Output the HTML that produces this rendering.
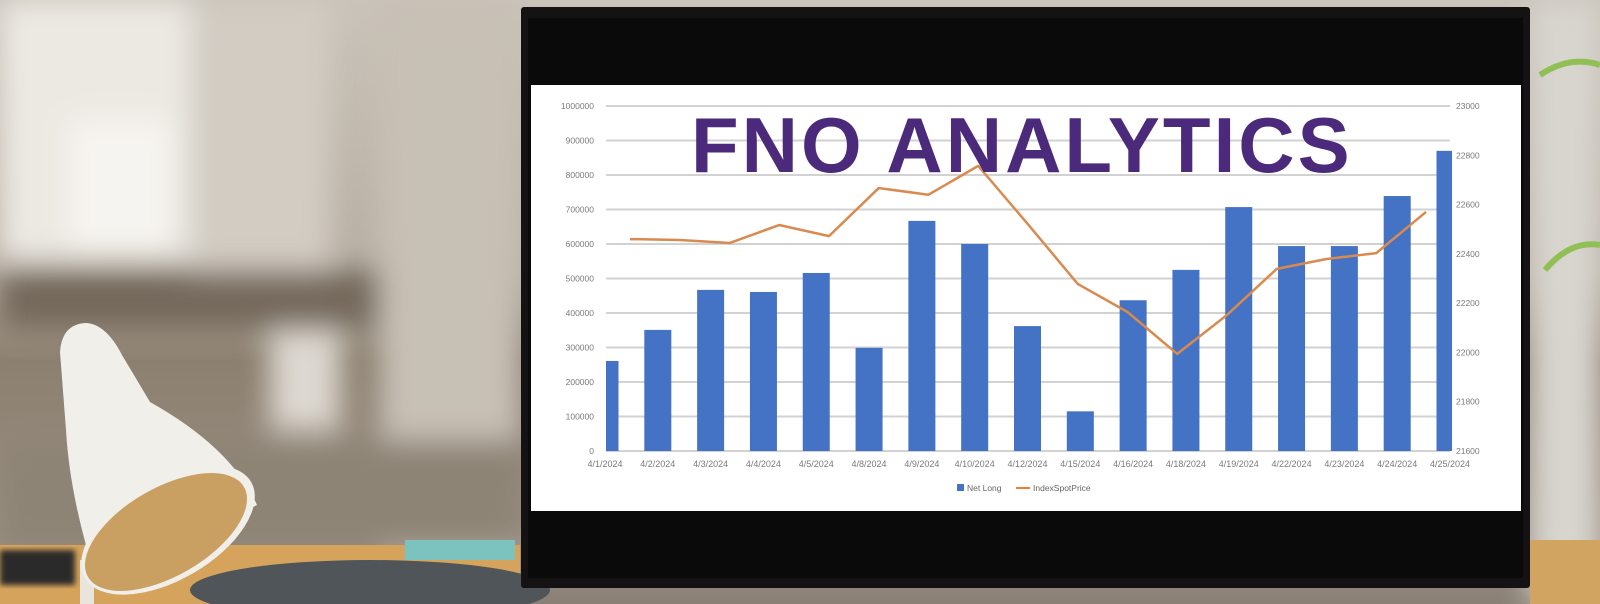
<!DOCTYPE html>
<html><head><meta charset="utf-8"><style>
html,body{margin:0;padding:0;width:1600px;height:604px;overflow:hidden;background:#b9b1a5}
svg{display:block}
text{font-family:"Liberation Sans",sans-serif}
</style></head><body>
<svg id="scene" width="1600" height="604" viewBox="0 0 1600 604">
<defs>
<filter id="blur" x="-20%" y="-20%" width="140%" height="140%"><feGaussianBlur stdDeviation="14"/></filter>
<filter id="blur2"><feGaussianBlur stdDeviation="3"/></filter>
<linearGradient id="bg" x1="0" y1="0" x2="0" y2="1">
<stop offset="0" stop-color="#c9c3b9"/><stop offset="0.45" stop-color="#b7aea2"/><stop offset="0.6" stop-color="#8c8070"/><stop offset="0.9" stop-color="#9a8f82"/><stop offset="1" stop-color="#8a8076"/></linearGradient>
<clipPath id="plotclip"><rect x="606" y="100" width="846" height="352"/></clipPath>
</defs>
<g>
<rect width="1600" height="604" fill="url(#bg)"/>
<g filter="url(#blur)">
<rect x="0" y="0" width="190" height="260" fill="#ece9e3"/>
<rect x="70" y="120" width="100" height="130" fill="#f6f4f0"/>
<rect x="190" y="0" width="140" height="300" fill="#d2ccc3"/>
<rect x="0" y="270" width="420" height="60" fill="#74695b"/>
<rect x="270" y="330" width="70" height="100" fill="#ddd8d0"/>
<rect x="380" y="0" width="140" height="560" fill="#c7c0b5"/>
<rect x="0" y="440" width="520" height="110" fill="#8e8476"/>
<rect x="1530" y="0" width="70" height="604" fill="#d8d5cf"/>
</g>
<rect x="0" y="545" width="520" height="59" fill="#d6a35c"/>
<rect x="0" y="550" width="75" height="35" fill="#2c2c2c" filter="url(#blur2)"/>
<rect x="405" y="540" width="110" height="20" fill="#7cc3c0"/>
<rect x="1530" y="540" width="70" height="64" fill="#d1a461"/>
<path d="M1540 75 q30 -20 60 -10 M1545 270 q25 -30 55 -25" stroke="#8fbf55" stroke-width="6" fill="none"/>
</g>
<g>
<rect x="80" y="560" width="14" height="44" fill="#e9e4dc"/>
<path d="M60 352 Q62 324 86 323 Q106 324 122 355 L150 402 Q232 448 257 505 L98 585 Q70 500 66 430 Z" fill="#f1efea"/>
<ellipse cx="168" cy="530" rx="96" ry="50" transform="rotate(-30 168 530)" fill="#f1efea"/>
<ellipse cx="166" cy="532" rx="90" ry="44" transform="rotate(-30 166 532)" fill="#c9a062"/>
</g>
<ellipse cx="370" cy="590" rx="180" ry="30" fill="#4f5558"/>
<g>
<rect x="521" y="7" width="1009" height="581" rx="3" fill="#141212"/>
<rect x="528" y="18" width="995" height="560" fill="#0b0a0a"/>
</g>
<g>
<rect x="531" y="85" width="990" height="426" fill="#ffffff"/>
<g id="grid"></g>
<g id="bars" clip-path="url(#plotclip)"></g>
<g id="line"></g>
<g id="leftTicks"></g>
<g id="rightTicks"></g>
<g id="xTicks"></g>
<g>
<rect x="957" y="484" width="7" height="7" fill="#4472c4"/>
<text x="967" y="491" font-size="8.5" fill="#666">Net Long</text>
<line x1="1016" y1="488" x2="1030" y2="488" stroke="#ed7d31" stroke-width="2"/>
<text x="1033" y="491" font-size="8.5" fill="#666">IndexSpotPrice</text>
</g>
<text x="691" y="172" font-size="78" font-weight="bold" fill="#4b2a7b" letter-spacing="3">FNO ANALYTICS</text>
</g>
</svg>
<script>
const categories=["4/1/2024","4/2/2024","4/3/2024","4/4/2024","4/5/2024","4/8/2024","4/9/2024","4/10/2024","4/12/2024","4/15/2024","4/16/2024","4/18/2024","4/19/2024","4/22/2024","4/23/2024","4/24/2024","4/25/2024"];
const netLong=[261000,351000,467000,461000,516000,299000,667000,600000,362000,115000,437000,525000,707000,594000,594000,739000,870000];
const indexSpotPrice=[22460,22456,22444,22517,22472,22667,22640,22757,22520,22278,22164,21994,22152,22339,22379,22403,22570];
const leftTicks=[0,100000,200000,300000,400000,500000,600000,700000,800000,900000,1000000];
const rightTicks=[21600,21800,22000,22200,22400,22600,22800,23000];
const NS="http://www.w3.org/2000/svg";
const Y0=451,Y1=106;
function yLeft(v){return Y0-(v-0)/(1000000-0)*(Y0-Y1);}
function yRight(v){return Y0-(v-21600)/(23000-21600)*(Y0-Y1);}
function xBar(i){return 605+i*(1450-605)/(categories.length-1);}
function xLine(i){return 630+i*(1426-630)/(categories.length-1);}
function mk(tag,attrs,parent){const e=document.createElementNS(NS,tag);for(const k in attrs)e.setAttribute(k,attrs[k]);document.getElementById(parent).appendChild(e);return e;}
leftTicks.forEach(v=>{
  const g=mk('line',{x1:606,x2:1450,y1:yLeft(v),y2:yLeft(v),stroke:'#d2d2d2','stroke-width':2},'grid');
  
  
  const t=mk('text',{x:594,y:yLeft(v)+3,'font-size':8.5,fill:'#7a7a7a','text-anchor':'end'},'leftTicks');
  t.textContent=v;
  
  
});
rightTicks.forEach(v=>{
  const t=mk('text',{x:1456,y:yRight(v)+3,'font-size':8.5,fill:'#7a7a7a'},'rightTicks');
  t.textContent=v;
  
  
});
categories.forEach((c,i)=>{
  const b=mk('rect',{x:xBar(i)-13.5,y:yLeft(netLong[i]),width:27,height:Y0-yLeft(netLong[i]),fill:'#4472c4'},'bars');
  
  
  const t=mk('text',{x:xBar(i),y:467,'font-size':9,fill:'#7a7a7a','text-anchor':'middle'},'xTicks');
  t.textContent=c;
  
  
});
const pts=indexSpotPrice.map((v,i)=>xLine(i)+','+yRight(v)).join(' ');
const pl=mk('polyline',{points:pts,fill:'none',stroke:'#d98a4e','stroke-width':2.5,'stroke-linejoin':'round'},'line');


</script>
</body></html>
